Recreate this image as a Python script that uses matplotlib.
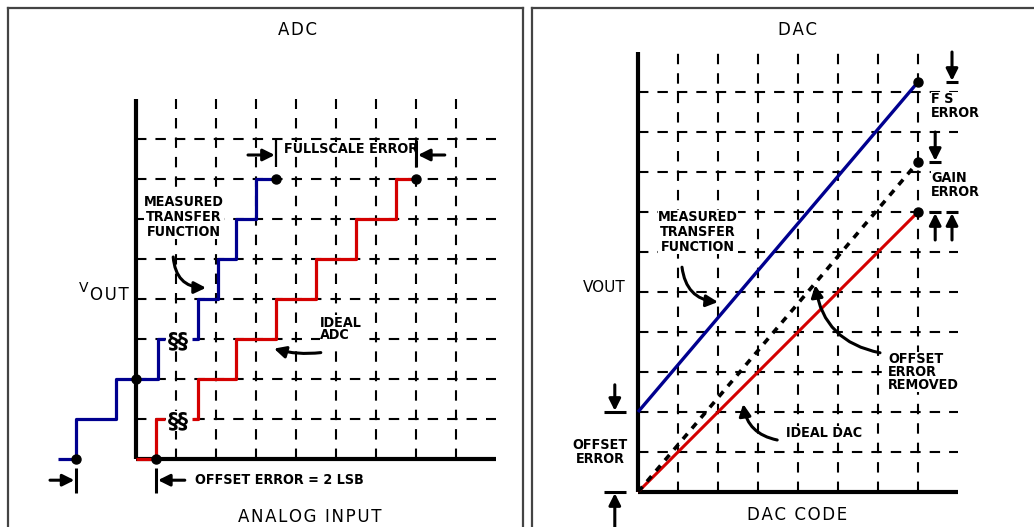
import matplotlib
matplotlib.use("Agg")
import matplotlib.pyplot as plt
from matplotlib import font_manager

plt.rcParams['lines.scale_dashes'] = False
plt.rcParams['lines.solid_capstyle'] = 'butt'

# ---------------- ADC panel data (grid units = 1 LSB) ----------------
adc_ideal_x_lo = [0, 0.5, 0.72]
adc_ideal_y_lo = [0, 1, 1]
adc_ideal_x_hi = [1.4, 1.55, 2.5, 3.5, 4.5, 5.5, 6.5, 7.0]
adc_ideal_y_hi = [1, 2, 3, 4, 5, 6, 7, 7]
adc_meas_x_lo = [-1.95, -1.5, -0.5, 0.55, 0.72]
adc_meas_y_lo = [0, 1, 2, 3, 3]
adc_meas_x_hi = [1.4, 1.55, 2.05, 2.5, 3.0, 3.5]
adc_meas_y_hi = [3, 4, 5, 6, 7, 7]
adc_ideal_dots_x = [0.5, 7.0]
adc_ideal_dots_y = [0, 7]
adc_meas_dots_x = [-1.5, 0, 3.5]
adc_meas_dots_y = [0, 2, 7]

# ---------------- DAC panel data ----------------
dac_code = [0, 7]
dac_ideal = [0, 7]
dac_measured = [2, 10.25]
dac_offset_removed = [0, 8.25]

BLUE = '#00008f'
RED = '#d40000'

names = {f.name for f in font_manager.fontManager.ttflist}
if 'Liberation Sans Narrow' in names:
    LBL = dict(family='Liberation Sans Narrow', fontweight='bold', fontsize=12)
else:
    LBL = dict(family='DejaVu Sans', stretch='condensed', fontweight='bold', fontsize=10.3)
REG = dict(family='DejaVu Sans', fontsize=12)
HS = '\u200a'


def spaced(s):
    return HS.join(s)


W, H = 1034, 527
PX = 40.0
fig = plt.figure(figsize=(W / 100, H / 100), dpi=100)


def panel(left_px, right_px, ox, oy):
    ax = fig.add_axes([left_px / W, 0, (right_px - left_px) / W, (H - 8) / H])
    ax.set_xlim((left_px - ox) / PX, (right_px - ox) / PX)
    ax.set_ylim((oy - H) / PX, (oy - 8) / PX)
    ax.set_xticks([])
    ax.set_yticks([])
    ax.spines['bottom'].set_visible(False)
    for s in ('left', 'top', 'right'):
        ax.spines[s].set_color('#444444')
        ax.spines[s].set_linewidth(1.6)
    return ax


def grid(ax, xmax, ymax, nx, ny):
    for gx in range(1, nx + 1):
        ax.plot([gx, gx], [0, ymax], color='k', lw=1.5, dashes=(7.5, 6.5), zorder=1)
    for gy in range(1, ny + 1):
        ax.plot([0, xmax], [gy, gy], color='k', lw=1.5, dashes=(7.5, 6.5), zorder=1)
    ax.plot([0, 0], [0, ymax], color='k', lw=3, zorder=3)
    ax.plot([0, xmax], [0, 0], color='k', lw=3, zorder=3)


def arrow(ax, tail, tip, rad=0.0, lw=2.2):
    ax.annotate('', xy=tip, xytext=tail,
                arrowprops=dict(arrowstyle='-|>,head_length=0.7,head_width=0.35',
                                color='k', lw=lw, shrinkA=0, shrinkB=0,
                                connectionstyle='arc3,rad=%s' % rad), zorder=6)


# ================= ADC =================
ax1 = panel(8, 523, 136, 459)
grid(ax1, 9, 9, 8, 8)

ax1.plot(adc_meas_x_lo, adc_meas_y_lo, drawstyle='steps-post', color=BLUE, lw=2.3, zorder=4)
ax1.plot(adc_meas_x_hi, adc_meas_y_hi, drawstyle='steps-post', color=BLUE, lw=2.3, zorder=4)
ax1.plot(adc_ideal_x_lo, adc_ideal_y_lo, drawstyle='steps-post', color=RED, lw=2.3, zorder=4)
ax1.plot(adc_ideal_x_hi, adc_ideal_y_hi, drawstyle='steps-post', color=RED, lw=2.3, zorder=4)
ax1.plot(adc_meas_dots_x, adc_meas_dots_y, 'o', color='k', ms=6.5, zorder=5)
ax1.plot(adc_ideal_dots_x, adc_ideal_dots_y, 'o', color='k', ms=6.5, zorder=5)

# break symbols
for by in (adc_meas_y_lo[-1], adc_ideal_y_lo[-1]):
    ax1.text(1.05, by - 0.05, '\u00a7\u00a7', ha='center', va='center', fontsize=15,
             fontweight='bold', family='DejaVu Sans', zorder=6,
             bbox=dict(facecolor='white', edgecolor='none', pad=0.3))

ax1.text(4.05, 10.72, spaced('ADC'), ha='center', va='center', **REG)
ax1.text(4.35, -1.45, spaced('ANALOG INPUT'), ha='center', va='center', **REG)
ax1.text(-1.42, 4.27, 'V', ha='left', va='center', family='DejaVu Sans', fontsize=10)
ax1.text(-1.15, 4.1, spaced('OUT'), ha='left', va='center', **REG)

# full-scale error
fs_meas = adc_meas_dots_x[-1]
fs_ideal = adc_ideal_dots_x[-1]
ax1.plot([fs_meas, fs_meas], [7.3, 7.97], color='k', lw=1.6, zorder=6)
ax1.plot([fs_ideal, fs_ideal], [7.3, 7.97], color='k', lw=2.2, zorder=6)
arrow(ax1, (fs_meas - 0.7, 7.6), (fs_meas - 0.03, 7.6))
arrow(ax1, (fs_ideal + 0.72, 7.6), (fs_ideal + 0.05, 7.6))
ax1.text(3.7, 7.75, 'FULLSCALE ERROR', ha='left', va='center', zorder=5,
         bbox=dict(facecolor='white', edgecolor='none', pad=0.3), **LBL)

# offset error
off_meas = adc_meas_dots_x[0]
off_ideal = adc_ideal_dots_x[0]
ax1.plot([off_meas, off_meas], [-0.22, -0.85], color='k', lw=2.2, zorder=6)
ax1.plot([off_ideal, off_ideal], [-0.22, -0.85], color='k', lw=2.2, zorder=6)
arrow(ax1, (off_meas - 0.65, -0.53), (off_meas - 0.04, -0.53))
arrow(ax1, (off_ideal + 0.72, -0.53), (off_ideal + 0.05, -0.53))
ax1.text(1.48, -0.53, 'OFFSET ERROR = 2 LSB', ha='left', va='center', **LBL)

ax1.text(1.2, 6.05, 'MEASURED\nTRANSFER\nFUNCTION', ha='center', va='center',
         linespacing=1.05, zorder=5,
         bbox=dict(facecolor='white', edgecolor='none', pad=0.3), **LBL)
arrow(ax1, (0.93, 5.05), (1.75, 4.28), rad=0.45)

ax1.text(4.6, 3.25, 'IDEAL\nADC', ha='left', va='center', linespacing=0.9, zorder=5,
         bbox=dict(facecolor='white', edgecolor='none', pad=0.2), **LBL)
arrow(ax1, (4.62, 2.66), (3.45, 2.76), rad=-0.1)

# ================= DAC =================
ax2 = panel(532, 1050, 638, 492)
grid(ax2, 8, 11, 7, 10)

ax2.plot(dac_code, dac_measured, color=BLUE, lw=2.4, zorder=4)
ax2.plot(dac_code, dac_ideal, color=RED, lw=2.2, zorder=4)
ax2.plot(dac_code, dac_offset_removed, color='k', lw=2.6, dashes=(5, 5), zorder=4)
ax2.plot(dac_code[-1:], dac_measured[-1:], 'o', color='k', ms=6.5, zorder=5)
ax2.plot(dac_code[-1:], dac_offset_removed[-1:], 'o', color='k', ms=6.5, zorder=5)
ax2.plot(dac_code[-1:], dac_ideal[-1:], 'o', color='k', ms=6.5, zorder=5)

ax2.text(4.0, 11.55, spaced('DAC'), ha='center', va='center', **REG)
ax2.text(3.98, -0.58, spaced('DAC CODE'), ha='center', va='center', **REG)
ax2.text(-1.38, 5.1, 'VOUT', ha='left', va='center', family='DejaVu Sans', fontsize=11)

# full-scale / gain error markers
xa, xb = 7.43, 7.85
top = dac_measured[-1]
mid = dac_offset_removed[-1]
low = dac_ideal[-1]
ax2.plot([xb - 0.15, xb + 0.15], [top, top], color='k', lw=2.2, zorder=6)
arrow(ax2, (xb, 11.0), (xb, top + 0.03))
ax2.plot([xa - 0.15, xa + 0.15], [mid, mid], color='k', lw=2.2, zorder=6)
arrow(ax2, (xa, 9.0), (xa, mid + 0.03))
for xx in (xa, xb):
    ax2.plot([xx - 0.15, xx + 0.15], [low, low], color='k', lw=2.2, zorder=6)
    arrow(ax2, (xx, 6.3), (xx, low - 0.03))
ax2.text(7.33, 9.65, 'F S\nERROR', ha='left', va='center', linespacing=0.95, zorder=5,
         bbox=dict(facecolor='white', edgecolor='none', pad=0.2), **LBL)
ax2.text(7.33, 7.68, 'GAIN\nERROR', ha='left', va='center', linespacing=0.95, zorder=5,
         bbox=dict(facecolor='white', edgecolor='none', pad=0.2), **LBL)

# offset error markers
xo = -0.58
ax2.plot([xo - 0.28, xo + 0.28], [dac_measured[0], dac_measured[0]], color='k', lw=2.2)
arrow(ax2, (xo, 2.68), (xo, dac_measured[0] + 0.03))
ax2.plot([xo - 0.28, xo + 0.28], [dac_ideal[0], dac_ideal[0]], color='k', lw=2.2)
arrow(ax2, (xo, -1.0), (xo, dac_ideal[0] - 0.03))
ax2.text(-0.95, 1.0, 'OFFSET\nERROR', ha='center', va='center', linespacing=1.0, **LBL)

ax2.text(1.5, 6.5, 'MEASURED\nTRANSFER\nFUNCTION', ha='center', va='center',
         linespacing=1.05, zorder=5,
         bbox=dict(facecolor='white', edgecolor='none', pad=0.3), **LBL)
arrow(ax2, (1.1, 5.62), (2.0, 4.75), rad=0.4)

ax2.text(6.25, 3.0, 'OFFSET\nERROR\nREMOVED', ha='left', va='center', linespacing=0.9,
         zorder=5, bbox=dict(facecolor='white', edgecolor='none', pad=0.2), **LBL)
arrow(ax2, (6.05, 3.48), (4.43, 5.17), rad=-0.35)

ax2.text(3.7, 1.47, 'IDEAL DAC', ha='left', va='center', zorder=5,
         bbox=dict(facecolor='white', edgecolor='none', pad=0.2), **LBL)
arrow(ax2, (3.48, 1.3), (2.63, 2.2), rad=-0.35)

fig.savefig('out.png', dpi=100)
